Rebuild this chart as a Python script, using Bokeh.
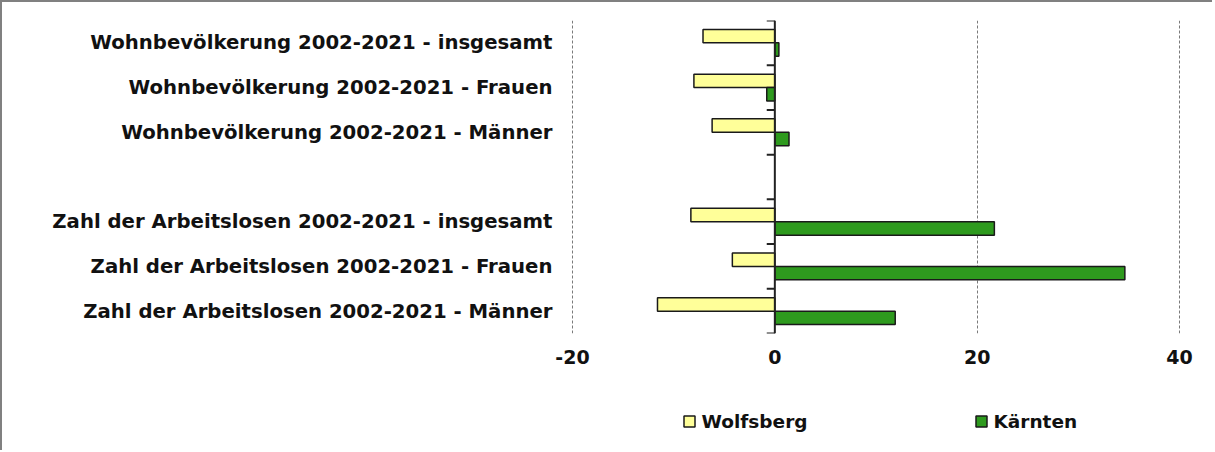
from bokeh.plotting import figure
from bokeh.layouts import column
from bokeh.models import ColumnDataSource, FixedTicker, Span, Range1d
from bokeh.core.properties import value
from bokeh.embed import file_html
from bokeh.resources import INLINE

# ---- data ----
categories = [
    "Wohnbevölkerung 2002-2021 - insgesamt",
    "Wohnbevölkerung 2002-2021 - Frauen",
    "Wohnbevölkerung 2002-2021 - Männer",
    "Zahl der Arbeitslosen 2002-2021 - insgesamt",
    "Zahl der Arbeitslosen 2002-2021 - Frauen",
    "Zahl der Arbeitslosen 2002-2021 - Männer",
]
wolfsberg = [-7.1, -8.0, -6.2, -8.3, -4.2, -11.6]
kaernten = [0.4, -0.8, 1.4, 21.7, 34.6, 11.9]
x_ticks = [-20, 0, 20, 40]
x_tick_labels = ["-20", "0", "20", "40"]
series_names = ["Wolfsberg", "Kärnten"]

# ---- layout of category slots (two groups of three with a blank slot between) ----
group_size = 3
n_slots = len(categories) + 1
positions = []
for i in range(len(categories)):
    gap = 1 if i >= group_size else 0
    positions.append(n_slots - 1 - i - gap)

FONT = "DejaVu Sans"
YELLOW = "#FFFF99"
GREEN = "#2E9A1E"
EDGE = "#1a1a1a"
series_colors = [YELLOW, GREEN]
pad = 0.1
FRAME_W = 609
BORDER_L = 569
BORDER_R = 32

p = figure(
    frame_width=FRAME_W, frame_height=313,
    min_border_left=BORDER_L, min_border_right=BORDER_R, min_border_top=18, min_border_bottom=50,
    x_range=Range1d(x_ticks[0] - pad, x_ticks[-1] + pad),
    y_range=Range1d(-0.5, n_slots - 0.5),
    output_backend="svg", toolbar_location=None,
    background_fill_color="white", border_fill_color="white",
)
p.outline_line_color = None

src = ColumnDataSource(dict(
    pos=positions,
    wy=[v + 0.15 for v in positions],
    ky=[v - 0.15 for v in positions],
    w=wolfsberg, k=kaernten,
))

p.hbar(y="wy", left=0, right="w", height=0.3, source=src,
       fill_color=YELLOW, line_color=EDGE, line_width=1.5)
p.hbar(y="ky", left=0, right="k", height=0.3, source=src,
       fill_color=GREEN, line_color=EDGE, line_width=1.5)

# vertical axis line at zero with boundary ticks
p.add_layout(Span(location=0, dimension="height", line_color="#222222", line_width=2))
bounds = [b - 0.5 for b in range(n_slots + 1)]
p.segment(x0=[0] * len(bounds), x1=[-0.8] * len(bounds), y0=bounds, y1=bounds,
          line_color="#222222", line_width=2)

# x axis
p.xaxis.ticker = FixedTicker(ticks=x_ticks)
p.xaxis.major_label_overrides = {t: s for t, s in zip(x_ticks, x_tick_labels)}
p.xaxis.axis_line_color = None
p.xaxis.major_tick_line_color = None
p.xaxis.minor_tick_line_color = None
p.xaxis.major_tick_out = 0
p.xaxis.major_tick_in = 0
p.xaxis.major_label_text_font = FONT
p.xaxis.major_label_text_font_style = "bold"
p.xaxis.major_label_text_font_size = "19px"
p.xaxis.major_label_text_color = "#111111"
p.xaxis.major_label_standoff = 16

p.xgrid.ticker = FixedTicker(ticks=x_ticks)
p.xgrid.grid_line_color = "#7a7a7a"
p.xgrid.grid_line_dash = "3 2"
p.xgrid.grid_line_width = 1
p.ygrid.grid_line_color = None

# y axis (category labels)
p.yaxis.ticker = FixedTicker(ticks=positions)
p.yaxis.major_label_overrides = {pos: lab for pos, lab in zip(positions, categories)}
p.yaxis.axis_line_color = None
p.yaxis.major_tick_line_color = None
p.yaxis.minor_tick_line_color = None
p.yaxis.major_tick_out = 0
p.yaxis.major_tick_in = 0
p.yaxis.major_label_standoff = 19
p.yaxis.major_label_text_font = FONT
p.yaxis.major_label_text_font_style = "bold"
p.yaxis.major_label_text_font_size = "19.7px"
p.yaxis.major_label_text_color = "#111111"

# ---- legend strip below the chart (pixel coordinates relative to the aligned frame) ----
LEG_H = 67
pl = figure(
    frame_width=FRAME_W, frame_height=LEG_H,
    x_range=Range1d(0, FRAME_W), y_range=Range1d(0, LEG_H),
    min_border_left=BORDER_L, min_border_right=BORDER_R, min_border_top=0, min_border_bottom=0,
    x_axis_location=None, y_axis_location=None,
    output_backend="svg", toolbar_location=None,
    background_fill_color="white", border_fill_color="white",
)
pl.outline_line_color = None
pl.xgrid.grid_line_color = None
pl.ygrid.grid_line_color = None

leg_x = [118, 410]
leg_y = [29, 29]
pl.scatter(x=leg_x, y=leg_y, marker="square", size=11,
           fill_color=series_colors, line_color=EDGE, line_width=1.5)
pl.text(x=[v + 12 for v in leg_x], y=leg_y, text=series_names,
        text_font=value(FONT), text_font_style="bold", text_font_size="18.5px",
        text_color="#111111", text_baseline="middle", text_align="left")

layout = column(p, pl, spacing=0,
                styles={"border-top": "2px solid #808080", "border-left": "2px solid #808080"})

open("out.html", "w").write(file_html(layout, INLINE))
